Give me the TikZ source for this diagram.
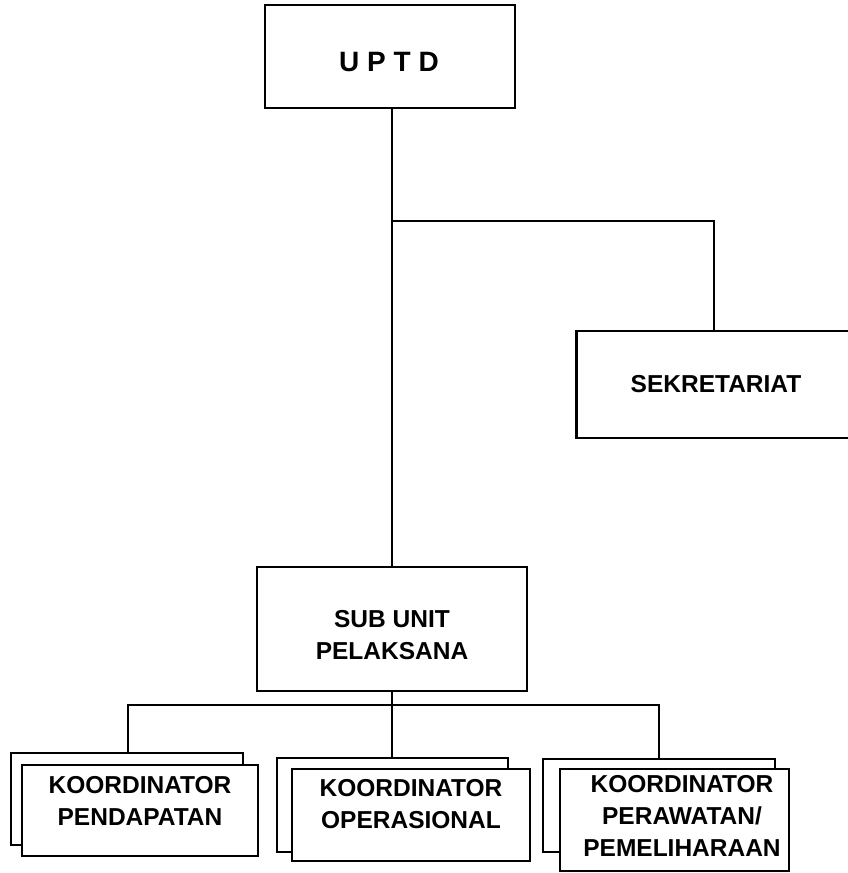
\documentclass[tikz,border=0pt]{standalone}
\usepackage{fontspec}
\setmainfont{Liberation Sans}
\tikzset{
  box/.style={draw, line width=2.4pt, fill=white, inner sep=0pt, rectangle},
  lbl/.style={inner sep=0pt, align=center, anchor=north, font=\fontsize{24.5}{32}\selectfont\bfseries},
  conn/.style={line width=2.4pt},
}
\begin{document}
\begin{tikzpicture}[x=1pt,y=-1pt]
\useasboundingbox (0,0) rectangle (847,873);
% boxes
\node[box, minimum width=250pt, minimum height=103pt] (uptd) at (390,56.5) {};
\node[box, minimum width=270pt, minimum height=124pt] (sub) at (392,629) {};
\node[box, minimum width=275pt, minimum height=107pt] (sek) at (714,384.5) {};
\node[box, minimum width=232pt, minimum height=92pt] (lback) at (127,799) {};
\node[box, minimum width=236pt, minimum height=91pt] (lfront) at (140,810.5) {};
\node[box, minimum width=231pt, minimum height=94pt] (mback) at (392.5,805) {};
\node[box, minimum width=238pt, minimum height=92pt] (mfront) at (411,815) {};
\node[box, minimum width=232pt, minimum height=93pt] (rback) at (659,805.5) {};
\node[box, minimum width=229pt, minimum height=102pt] (rfront) at (674.5,820) {};
% connectors
\coordinate (j1) at (392,221);
\coordinate (j2) at (392,705);
\coordinate (bl) at (128,705);
\coordinate (br) at (659,705);
\draw[conn] (uptd.south -| j1) -- (sub.north -| j1);
\draw[conn] (j1) -| (sek.north);
\draw[conn] (sub.south -| j2) -- (j2) -- (j2 |- mback.north);
\draw[conn] (bl |- lback.north) -- (bl) -- (br) -- (br |- rback.north);
% texts
\node[lbl, font=\fontsize{28}{34}\selectfont\bfseries] (tu) at (389,52) {U P T D};
\node[lbl] (ts) at (392,610) {SUB UNIT\\PELAKSANA};
\node[lbl] (tk) at (716,375) {SEKRETARIAT};
\node[lbl] (t1) at (140,776) {KOORDINATOR\\PENDAPATAN};
\node[lbl] (t2) at (411,779) {KOORDINATOR\\OPERASIONAL};
\node[lbl] (t3) at (682,775) {KOORDINATOR\\PERAWATAN/\\PEMELIHARAAN};
\end{tikzpicture}
\end{document}
